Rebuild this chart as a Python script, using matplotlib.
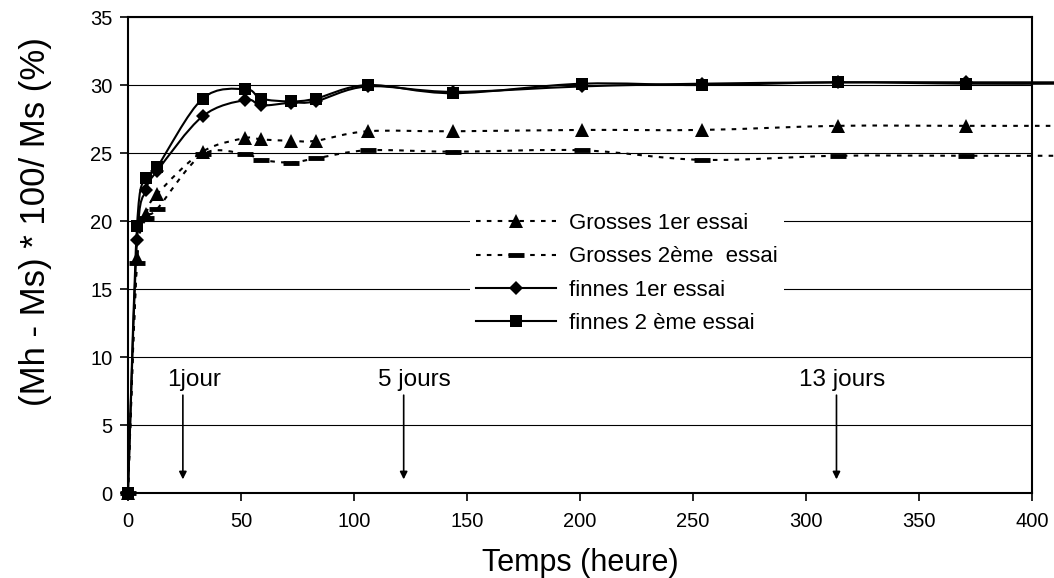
import matplotlib
matplotlib.use("Agg")
import matplotlib.pyplot as plt
import numpy as np
from matplotlib.path import Path
from matplotlib.patches import PathPatch
from matplotlib.lines import Line2D

plt.rcParams['font.family'] = ['Liberation Sans', 'DejaVu Sans']

# measurement times (hours); last entry is where the lines leave the picture
temps = [0, 4, 8, 13, 33, 52, 59, 72, 83, 106, 144, 201, 254, 314, 371, 410]

grosses_1 = [0, 17.3, 20.5, 22.0, 25.1, 26.1, 26.0, 25.9, 25.9, 26.6, 26.6, 26.7, 26.7, 27.0, 27.0, 27.0]
grosses_2 = [0, 16.9, 20.2, 20.9, 24.9, 24.9, 24.5, 24.3, 24.6, 25.2, 25.1, 25.2, 24.5, 24.8, 24.8, 24.8]
finnes_1 = [0, 18.6, 22.3, 23.7, 27.7, 28.9, 28.5, 28.7, 28.8, 29.9, 29.5, 29.9, 30.1, 30.2, 30.2, 30.2]
finnes_2 = [0, 19.6, 23.2, 24.0, 29.0, 29.7, 29.0, 28.8, 29.0, 30.0, 29.4, 30.1, 30.0, 30.2, 30.1, 30.1]

labels = ['Grosses 1er essai', 'Grosses 2\u00e8me  essai', 'finnes 1er essai', 'finnes 2 \u00e8me essai']

# arrows: (label, x of arrow, x of text left edge)
marks = [('1jour', 24.3, 17.5), ('5 jours', 122, 110.5), ('13 jours', 313.5, 297)]


def smooth_path(x, y):
    # Excel-like smoothed line: cubic bezier through the points
    pts = np.column_stack([x, y]).astype(float)
    n = len(pts)
    verts = [pts[0]]
    codes = [Path.MOVETO]
    for i in range(n - 1):
        p0 = pts[max(i - 1, 0)]
        p1 = pts[i]
        p2 = pts[i + 1]
        p3 = pts[min(i + 2, n - 1)]
        c1 = p1 + (p2 - p0) / 6.0
        c2 = p2 - (p3 - p1) / 6.0
        verts += [c1, c2, p2]
        codes += [Path.CURVE4] * 3
    return Path(verts, codes)


fig = plt.figure(figsize=(10.54, 5.78), dpi=100)
ax = fig.add_axes([0.1214, 0.147, 0.8577, 0.8235])

dot = (0, (2.2, 3.0))
styles = [
    dict(ls=dot, marker='^', ms=10, mew=0),
    dict(ls=dot, marker='_', ms=11, mew=3.5),
    dict(ls='-', marker='D', ms=7.5, mew=0),
    dict(ls='-', marker='s', ms=8, mew=0),
]
series = [grosses_1, grosses_2, finnes_1, finnes_2]

for vals, st in zip(series, styles):
    patch = PathPatch(smooth_path(temps, vals), facecolor='none', edgecolor='black',
                      lw=1.5, linestyle=st['ls'], clip_on=False, zorder=3)
    ax.add_patch(patch)
    ax.plot(temps[:-1], vals[:-1], linestyle='none', marker=st['marker'],
            markersize=st['ms'], color='black', mew=st['mew'], zorder=4, clip_on=False)

for txt, xa, xt in marks:
    ax.text(xt, 7.9, txt, fontsize=17.5, ha='left', va='baseline')
    ax.annotate('', xy=(xa, 0.8), xytext=(xa, 7.4),
                arrowprops=dict(arrowstyle='-|>', color='black', lw=1.2, mutation_scale=11))

ax.set_xlim(0, 400)
ax.set_ylim(0, 35)
ax.set_xticks(np.arange(0, 401, 50))
ax.set_yticks(np.arange(0, 36, 5))
ax.yaxis.grid(True, color='black', lw=0.8)
ax.set_axisbelow(True)
ax.tick_params(labelsize=14.5, length=6, width=1.2, direction='out', pad=8)
ax.tick_params(axis='y', pad=5)
for s in ax.spines.values():
    s.set_linewidth(1.5)

ax.set_xlabel('Temps (heure)', fontsize=22, labelpad=12)
ax.set_ylabel('(Mh - Ms) * 100/ Ms (%)', fontsize=25)
ax.yaxis.set_label_coords(-0.084, 0.57)

handles = [Line2D([], [], color='black', lw=1.5, linestyle=st['ls'], marker=st['marker'],
                  markersize=st['ms'], mew=st['mew']) for st in styles]
leg = ax.legend(handles, labels, loc='center', bbox_to_anchor=(0.552, 0.461), fontsize=16,
                frameon=True, framealpha=1, facecolor='white', edgecolor='none', fancybox=False,
                handlelength=3.6, handletextpad=0.55, labelspacing=0.55, numpoints=1, borderpad=0.3)

fig.savefig('out.png', dpi=100)
